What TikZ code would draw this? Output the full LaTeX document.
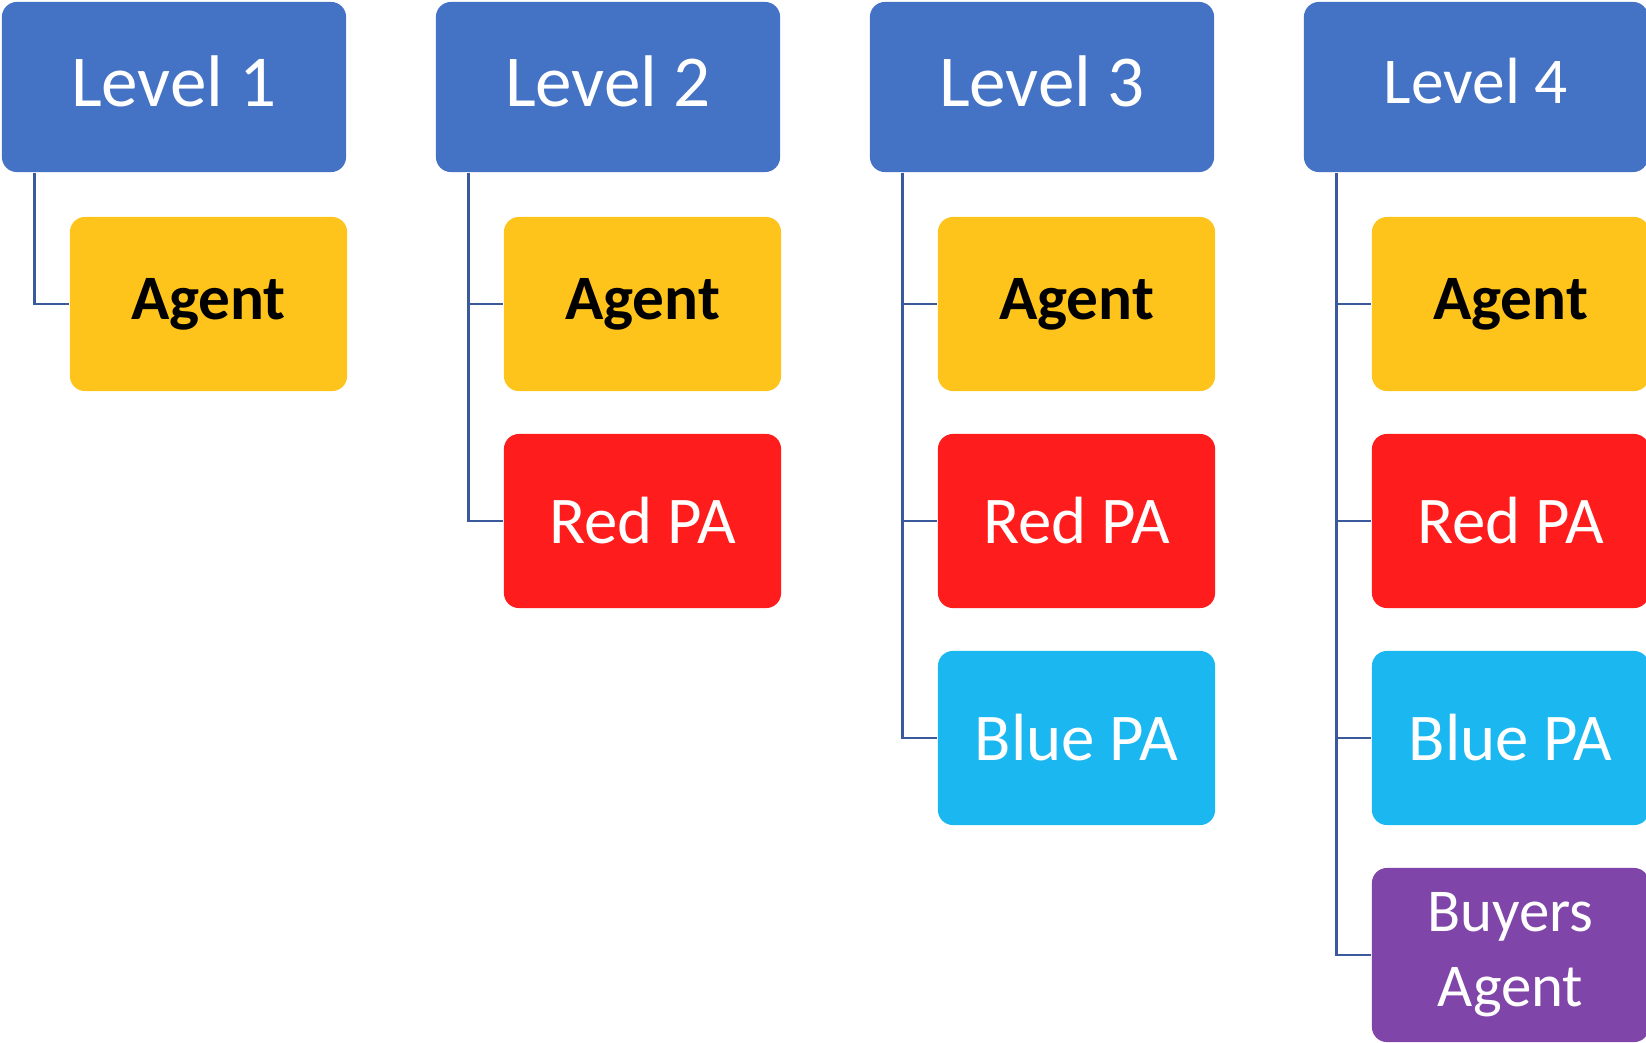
\documentclass[tikz,border=0pt]{standalone}
\usepackage{fontspec}
\setmainfont{Carlito}
\definecolor{levelblue}{HTML}{4472C4}
\definecolor{agentgold}{HTML}{FFC41C}
\definecolor{pared}{HTML}{FF1C1C}
\definecolor{pablue}{HTML}{1BB7F0}
\definecolor{buyerpurple}{HTML}{7F45A8}
\definecolor{linkblue}{HTML}{3A5A9C}
\begin{document}
\begin{tikzpicture}[x=0.01cm,y=-0.01cm,
  card/.style={rounded corners=0.15cm,inner sep=0pt,align=center,text=white,
    minimum width=2.77cm,minimum height=1.74cm},
  levelbox/.style={card,fill=levelblue,minimum width=3.44cm,minimum height=1.70cm},
  agentbox/.style={card,fill=agentgold,text=black,font=\fontsize{18}{21}\selectfont\bfseries},
  redbox/.style={card,fill=pared,font=\fontsize{19}{22}\selectfont},
  bluebox/.style={card,fill=pablue,font=\fontsize{19}{22}\selectfont},
  buyerbox/.style={card,fill=buyerpurple,font=\fontsize{17.3}{21.3}\selectfont},
  link/.style={draw=linkblue,line width=0.75pt}]
  \useasboundingbox (0,0) rectangle (1646,1042);
  % one column per level, each level adds one more child
  \foreach \n in {1,...,4}{
    \pgfmathsetmacro{\fs}{\n==4 ? 18.6 : 20.8}
    \node[levelbox,font=\fontsize{\fs}{24}\selectfont] (h\n) at ({174+434*(\n-1)},87) {\raisebox{1.2mm}{Level \n}};
    \foreach \j/\sty/\txt in {1/agentbox/Agent,2/redbox/Red PA,3/bluebox/Blue PA,4/buyerbox/{Buyers\\Agent}}{
      \ifnum\j>\n\else
        \node[\sty] (c\n-\j) at ({208.5+434*(\n-1)},{304+217*(\j-1)}) {\txt};
        \draw[link] ([xshift=0.33cm]h\n.south west) |- (c\n-\j.west);
      \fi
    }
  }
\end{tikzpicture}
\end{document}
